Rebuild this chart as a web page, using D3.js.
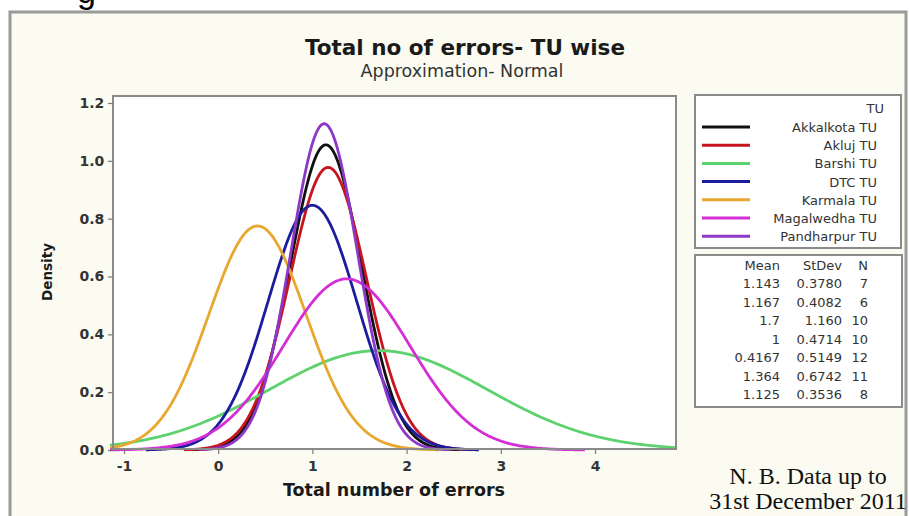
<!DOCTYPE html>
<html>
<head>
<meta charset="utf-8">
<script src="https://cdn.jsdelivr.net/npm/d3@7"></script>
<style>
  body { margin: 0; background: #ffffff; }
  svg { display: block; }
</style>
</head>
<body>
<div id="chart"></div>
<script>
// TU groups with their normal-fit summary (read from the stats box)
const tuNames = ["Akkalkota TU", "Akluj TU", "Barshi TU", "DTC TU", "Karmala TU", "Magalwedha TU", "Pandharpur TU"];
const means = [1.143, 1.167, 1.7, 1, 0.4167, 1.364, 1.125];
const stdevs = [0.3780, 0.4082, 1.160, 0.4714, 0.5149, 0.6742, 0.3536];
const counts = [7, 6, 10, 10, 12, 11, 8];
const colors = ["#111111", "#c8141e", "#5ed26e", "#1c1c9e", "#e8a830", "#d62ed6", "#8e38c8"];
const xTicks = [-1, 0, 1, 2, 3, 4];
const yTicks = [0, 0.2, 0.4, 0.6, 0.8, 1.0, 1.2];

const width = 909, height = 516;
const plot = { left: 113, top: 96, right: 676, bottom: 449 };
const sans = "DejaVu Sans, Verdana, sans-serif";

const svg = d3.select("#chart").append("svg")
  .attr("width", width)
  .attr("height", height);

// heading fragment peeking in at the top of the page (cut off in the source too)
svg.append("text")
  .attr("x", 77).attr("y", 3)
  .attr("font-family", "Liberation Sans, Arial, sans-serif")
  .attr("font-size", 34)
  .text("g");

// outer chart frame
svg.append("rect")
  .attr("x", 10).attr("y", 12)
  .attr("width", 896).attr("height", 530)
  .attr("fill", "#fbfbf1")
  .attr("stroke", "#9a9a9a")
  .attr("stroke-width", 3);

const x = d3.scaleLinear().domain([-1, 4]).range([124, 595]);
const y = d3.scaleLinear().domain([0, 1.2]).range([450, 103]);

// plot area
svg.append("rect")
  .attr("x", plot.left).attr("y", plot.top)
  .attr("width", plot.right - plot.left).attr("height", plot.bottom - plot.top)
  .attr("fill", "#ffffff");

svg.append("clipPath").attr("id", "clip")
  .append("rect")
  .attr("x", plot.left - 3).attr("y", plot.top)
  .attr("width", plot.right - plot.left + 3).attr("height", plot.bottom - plot.top + 3);

// normal density curves
const pdf = (v, m, s) => Math.exp(-0.5 * ((v - m) / s) ** 2) / (s * Math.sqrt(2 * Math.PI));
const curves = tuNames.map((name, i) => {
  const lo = means[i] - 3.75 * stdevs[i], hi = means[i] + 3.75 * stdevs[i];
  return { name, color: colors[i], pts: d3.range(0, 241).map(k => {
    const v = lo + (hi - lo) * k / 240;
    return [v, pdf(v, means[i], stdevs[i])];
  }) };
});

const line = d3.line().x(d => x(d[0])).y(d => y(d[1]));

svg.append("g")
  .attr("clip-path", "url(#clip)")
  .selectAll("path")
  .data(curves)
  .join("path")
  .attr("fill", "none")
  .attr("stroke", d => d.color)
  .attr("stroke-width", 2.8)
  .attr("stroke-linejoin", "round")
  .attr("d", d => line(d.pts));

// plot frame
svg.append("rect")
  .attr("x", plot.left).attr("y", plot.top)
  .attr("width", plot.right - plot.left).attr("height", plot.bottom - plot.top)
  .attr("fill", "none")
  .attr("stroke", "#8a8a8a")
  .attr("stroke-width", 2);

// axes
const xAxis = svg.append("g")
  .attr("transform", `translate(0,${plot.bottom})`)
  .call(d3.axisBottom(x).tickValues(xTicks).tickSize(5).tickFormat(d => String(d)));
const yAxis = svg.append("g")
  .attr("transform", `translate(${plot.left},0)`)
  .call(d3.axisLeft(y).tickValues(yTicks).tickSize(5).tickFormat(d3.format(".1f")));

[xAxis, yAxis].forEach(g => {
  g.select(".domain").remove();
  g.selectAll(".tick line").attr("stroke", "#7a7a7a").attr("stroke-width", 1.2);
  g.selectAll("text")
    .attr("font-family", sans)
    .attr("font-weight", "bold")
    .attr("font-size", 14)
    .attr("fill", "#333");
});
xAxis.selectAll("text").attr("dy", "1.0em");
yAxis.selectAll("text").attr("dx", "-0.05em");

// titles
svg.append("text")
  .attr("x", 465).attr("y", 55)
  .attr("text-anchor", "middle")
  .attr("font-family", sans)
  .attr("font-weight", "bold")
  .attr("font-size", 21.5)
  .attr("fill", "#1a1a1a")
  .text("Total no of errors- TU wise");

svg.append("text")
  .attr("x", 462).attr("y", 77)
  .attr("text-anchor", "middle")
  .attr("font-family", sans)
  .attr("font-size", 17.5)
  .attr("fill", "#333")
  .text("Approximation- Normal");

svg.append("text")
  .attr("transform", "translate(52,272) rotate(-90)")
  .attr("text-anchor", "middle")
  .attr("font-family", sans)
  .attr("font-weight", "bold")
  .attr("font-size", 13.5)
  .attr("fill", "#1a1a1a")
  .text("Density");

svg.append("text")
  .attr("x", 394).attr("y", 496)
  .attr("text-anchor", "middle")
  .attr("font-family", sans)
  .attr("font-weight", "bold")
  .attr("font-size", 17.5)
  .attr("fill", "#1a1a1a")
  .text("Total number of errors");

// legend box
svg.append("rect")
  .attr("x", 695).attr("y", 95).attr("width", 206).attr("height", 153)
  .attr("fill", "#ffffff").attr("stroke", "#8a8a8a").attr("stroke-width", 2);

svg.append("text")
  .attr("x", 884).attr("y", 113)
  .attr("text-anchor", "end")
  .attr("font-family", sans).attr("font-size", 13).attr("fill", "#333")
  .text("TU");

const leg = svg.append("g").selectAll("g")
  .data(curves)
  .join("g")
  .attr("transform", (d, i) => `translate(0,${127 + i * 18.2})`);
leg.append("line")
  .attr("x1", 702).attr("x2", 750)
  .attr("stroke", d => d.color).attr("stroke-width", 3);
leg.append("text")
  .attr("x", 877).attr("y", 5)
  .attr("text-anchor", "end")
  .attr("font-family", sans).attr("font-size", 13).attr("fill", "#333")
  .text(d => d.name);

// stats box
svg.append("rect")
  .attr("x", 695).attr("y", 255).attr("width", 207).attr("height", 152)
  .attr("fill", "#ffffff").attr("stroke", "#8a8a8a").attr("stroke-width", 2);

const cols = [
  { head: "Mean", x: 780, vals: means.map(d3.format(".4~r")) },
  { head: "StDev", x: 842, vals: stdevs.map(d3.format(".4r")) },
  { head: "N", x: 868, vals: counts.map(String) }
];
const statG = svg.append("g")
  .attr("font-family", sans).attr("font-size", 13).attr("fill", "#333")
  .attr("text-anchor", "end");
cols.forEach(c => {
  statG.append("text").attr("x", c.x).attr("y", 270).text(c.head);
  statG.selectAll(null)
    .data(c.vals)
    .join("text")
    .attr("x", c.x)
    .attr("y", (d, i) => 288 + i * 18.5)
    .text(d => d);
});

// note
svg.append("g")
  .attr("font-family", "Liberation Serif, Times New Roman, serif")
  .attr("font-size", 24)
  .attr("fill", "#111")
  .attr("text-anchor", "middle")
  .selectAll("text")
  .data(["N. B. Data up to", "31st December 2011"])
  .join("text")
  .attr("x", 808)
  .attr("y", (d, i) => 484 + i * 25)
  .text(d => d);
</script>
</body>
</html>
